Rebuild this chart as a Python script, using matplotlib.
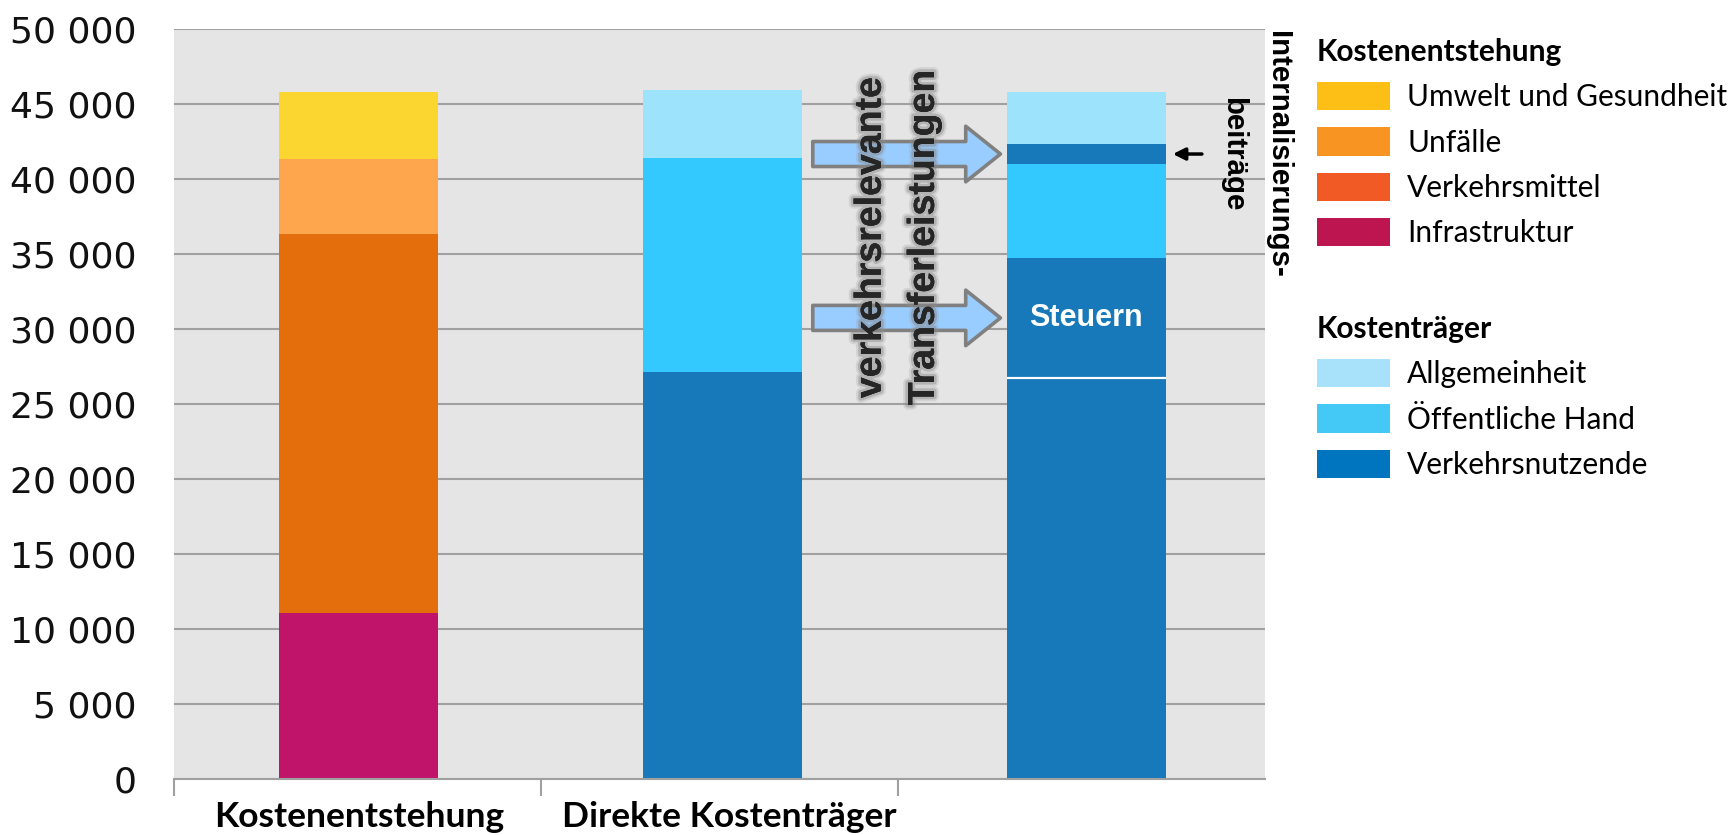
import matplotlib
matplotlib.use("Agg")
import matplotlib.pyplot as plt
import matplotlib.patheffects as pe
from matplotlib.patches import FancyArrowPatch, Patch, ArrowStyle
from matplotlib.ticker import FuncFormatter

# Kostenentstehung, stacked bottom to top
origin_labels = ["Infrastruktur", "Verkehrsmittel", "Unfälle", "Umwelt und Gesundheit"]
origin_values = [11100, 25230, 5000, 4470]
origin_colors = ["#BF1469", "#E46E0C", "#FEA64E", "#FCD630"]

# direkte Kostenträger, stacked bottom to top
carrier_labels = ["Verkehrsnutzende", "Öffentliche Hand", "Allgemeinheit"]
direct_values = [27130, 14270, 4530]
carrier_colors = ["#1778BA", "#33C9FF", "#9DE3FB"]

# nach Transferleistungen: Nutzende, Steuern, Öffentliche Hand, Internalisierungsbeiträge, Allgemeinheit
after_values = [26750, 7980, 6270, 1330, 3470]
after_colors = ["#1778BA", "#1778BA", "#33C9FF", "#1778BA", "#9DE3FB"]

categories = ["Kostenentstehung", "Direkte Kostenträger"]
yticks = list(range(0, 50001, 5000))

# legend swatches (top to bottom)
legend_origin = ["Umwelt und Gesundheit", "Unfälle", "Verkehrsmittel", "Infrastruktur"]
legend_origin_colors = ["#FDBE16", "#F79422", "#F15A25", "#BD1550"]
legend_carrier = ["Allgemeinheit", "Öffentliche Hand", "Verkehrsnutzende"]
legend_carrier_colors = ["#A8E1FA", "#44C8F5", "#0075BF"]

W = 0.437

fig = plt.figure(figsize=(17.34, 8.35), dpi=100)
ax = fig.add_axes([174 / 1734, 56 / 835, 1091 / 1734, 750 / 835])
ax.set_facecolor("#E5E5E5")


def stack(x, values, colors):
    bottom = 0
    bottoms = []
    for v, c in zip(values, colors):
        ax.bar(x, v, W, bottom=bottom, color=c, linewidth=0, zorder=2)
        bottoms.append(bottom)
        bottom += v
    return bottoms


stack(0, origin_values, origin_colors)
stack(1, direct_values, carrier_colors)
b3 = stack(2, after_values, after_colors)

# thin white separator between Nutzende and Steuern
ax.hlines(b3[1], 2 - W / 2, 2 + W / 2, color="white", lw=1.6, zorder=3)

tax_mid = b3[1] + after_values[1] / 2
intern_mid = b3[3] + after_values[3] / 2

ax.text(2, tax_mid, "Steuern", color="white", fontsize=22, fontweight="bold",
        family="Liberation Sans", ha="center", va="center", zorder=4)

# Transfer arrows from the middle bar to the right bar
x_tail = 1 + W / 2 + 0.03
x_tip = 2 - W / 2 - 0.017
style = ArrowStyle.Simple(head_length=25, head_width=40, tail_width=18)
for yy in (intern_mid, tax_mid):
    arr = FancyArrowPatch((x_tail, yy), (x_tip, yy), arrowstyle=style, mutation_scale=1,
                          fc="#99CCFF", ec="#808080", lw=2.6, shrinkA=0, shrinkB=0, zorder=4)
    ax.add_patch(arr)

glow = [pe.withStroke(linewidth=7, foreground="#9A9A9A", alpha=0.25),
        pe.withStroke(linewidth=4, foreground="#7A7A7A", alpha=0.35), pe.Normal()]
for xx, s in ((1.408, "verkehrsrelevante"), (1.554, "Transferleistungen")):
    ax.text(xx, 36100, s, rotation=90, ha="center", va="center", fontsize=27,
            fontweight="bold", family="Liberation Sans", color="#262626",
            path_effects=glow, zorder=5)

# Internalisierungsbeiträge marker
ax.annotate("", xy=(2 + W / 2 + 0.02, intern_mid), xytext=(2 + W / 2 + 0.1, intern_mid),
            arrowprops=dict(arrowstyle="-|>", color="black", lw=2.5, mutation_scale=18,
                            shrinkA=0, shrinkB=0), zorder=5)
ax.text(2.528, intern_mid, "Internalisierungs-", rotation=-90, ha="center", va="center",
        fontsize=21.2, fontweight="bold", family="Liberation Sans", color="black")
ax.text(2.404, intern_mid, "beiträge", rotation=-90, ha="center", va="center",
        fontsize=21.2, fontweight="bold", family="Liberation Sans", color="black")

ax.set_xlim(-0.508, 2.492)
ax.set_ylim(0, 50000)
ax.set_yticks(yticks)
ax.yaxis.set_major_formatter(FuncFormatter(lambda v, p: f"{int(v):,}".replace(",", " ")))
ax.tick_params(axis="y", length=0, pad=27, labelsize=26, labelcolor="#111111")
for lab in ax.get_yticklabels():
    lab.set_family("DejaVu Sans")

# separator ticks between the categories, labels as minor ticks
ax.set_xticks([-0.508, 0.5, 1.483])
ax.set_xticklabels([])
ax.set_xticks([0, 1.02], minor=True)
ax.set_xticklabels(categories, minor=True, fontsize=25.5, fontweight="bold", family="Lato")
ax.tick_params(axis="x", which="major", length=12, width=1.5, color="#A0A0A0")
ax.tick_params(axis="x", which="minor", length=0, pad=16)

ax.yaxis.grid(True, color="#A0A0A0", lw=1.5, zorder=1)
ax.set_axisbelow(True)
for side in ("left", "top", "right"):
    ax.spines[side].set_visible(False)
ax.spines["bottom"].set_color("#A0A0A0")
ax.spines["bottom"].set_linewidth(1.5)

leg_kw = dict(loc="upper left", frameon=False, borderpad=0, borderaxespad=0,
              handlelength=2.44, handleheight=1.07, labelspacing=0.54, handletextpad=0.58,
              alignment="left", prop=dict(family="Lato", size=21.5),
              title_fontproperties=dict(family="Lato", weight="bold", size=21.5))
fig.legend(handles=[Patch(fc=c, label=l) for l, c in zip(legend_origin, legend_origin_colors)],
           title="Kostenentstehung", bbox_to_anchor=(1317 / 1734, 1 - 38 / 835), **leg_kw)
fig.legend(handles=[Patch(fc=c, label=l) for l, c in zip(legend_carrier, legend_carrier_colors)],
           title="Kostenträger", bbox_to_anchor=(1317 / 1734, 1 - 315 / 835), **leg_kw)

fig.savefig("out.png", dpi=100)
